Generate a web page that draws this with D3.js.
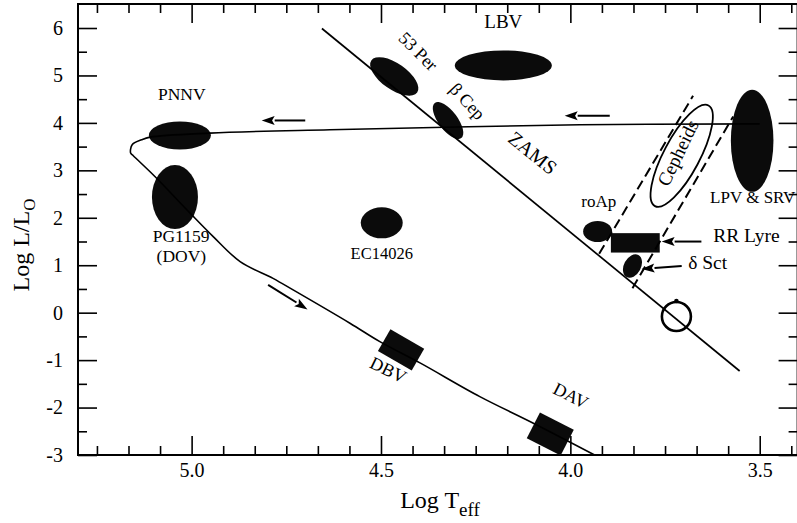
<!DOCTYPE html>
<html><head><meta charset="utf-8">
<script src="https://cdn.jsdelivr.net/npm/d3@7"></script>
<style>
body{margin:0;background:#fff}
svg{display:block}
text{font-family:"Liberation Serif","Times New Roman",Times,serif;fill:#000}
</style>
</head><body>
<svg id="chart" width="797" height="523"></svg>
<script>
// ---------- data (log Teff, log L/Lsun) ----------
const xMajorTicks = [5.0, 4.5, 4.0, 3.5];
const xTickLabels = ["5.0", "4.5", "4.0", "3.5"];
const yMajorTicks = [-3, -2, -1, 0, 1, 2, 3, 4, 5, 6];
const yTickLabels = ["-3", "-2", "-1", "0", "1", "2", "3", "4", "5", "6"];

const zamsLogT = [4.656, 3.553];
const zamsLogL = [5.99, -1.23];

// post-AGB / white dwarf evolutionary track
const trackLogT = [3.50, 3.975, 4.635, 4.952, 5.110, 5.132, 5.157, 5.161, 5.154, 5.097, 5.004, 4.943, 4.872, 4.785, 4.732, 4.582, 4.503, 4.397, 4.239, 4.099, 3.936];
const trackLogL = [3.98, 3.96, 3.855, 3.785, 3.70, 3.644, 3.539, 3.364, 3.307, 2.870, 2.098, 1.604, 1.077, 0.723, 0.480, -0.222, -0.610, -1.059, -1.770, -2.325, -3.0];

// filled pulsator regions (ellipses)
const regionNames = ["PNNV", "PG1159", "EC14026", "53 Per", "β Cep", "LBV", "LPV & SRV", "roAp", "δ Sct"];
const regionLogT = [5.031, 5.044, 4.498, 4.465, 4.323, 4.177, 3.520, 3.928, 3.836];
const regionLogL = [3.735, 2.436, 1.893, 4.979, 4.051, 5.211, 3.623, 1.710, 0.982];

// rotated boxes on the white dwarf cooling track
const boxNames = ["DBV", "DAV"];
const boxLogT = [4.447, 4.053];
const boxLogL = [-0.785, -2.557];

// RR Lyrae box
const rrLogT = [3.893, 3.764];
const rrLogL = [1.267, 1.676];

// Cepheid outline
const cephLogT = 3.706, cephLogL = 3.307;

// instability strip edges (dashed)
const stripBlueLogT = [3.924, 3.676], stripBlueLogL = [1.240, 4.572];
const stripRedLogT = [3.836, 3.570], stripRedLogL = [0.516, 4.136];

// Sun
const sunLogT = 3.720, sunLogL = -0.08;

// arrows
const arrowFromT = [4.700, 3.896, 4.798, 3.654, 3.706];
const arrowFromL = [4.051, 4.150, 0.586, 1.499, 0.986];
const arrowToT = [4.815, 4.015, 4.694, 3.759, 3.812];
const arrowToL = [4.051, 4.150, 0.069, 1.499, 0.923];

// labels
const labelTexts = ["LBV", "53 Per", "β Cep", "ZAMS", "PNNV", "PG1159", "(DOV)", "EC14026", "roAp", "LPV & SRV", "RR Lyre", "δ Sct", "Cepheids", "DBV", "DAV"];
const labelLogT = [4.177, 4.402, 4.272, 4.099, 5.026, 5.028, 5.027, 4.498, 3.925, 3.631, 3.623, 3.689, 3.716, 4.481, 3.999];
const labelLogL = [6.0, 5.507, 4.452, 3.37, 4.488, 1.486, 1.077, 1.134, 2.237, 2.309, 1.487, 0.917, 3.37, -1.207, -1.749];

// ---------- styling / geometry (pixels) ----------
const ellipseStyle = {
  "PNNV": {rx: 31, ry: 14, rot: 0},
  "PG1159": {rx: 23, ry: 32, rot: 0},
  "EC14026": {rx: 21, ry: 15.5, rot: 0},
  "53 Per": {rx: 28, ry: 13, rot: 35},
  "β Cep": {rx: 22, ry: 9.5, rot: 53},
  "LBV": {rx: 48.5, ry: 15, rot: 0},
  "LPV & SRV": {rx: 21.3, ry: 51, rot: 0},
  "roAp": {rx: 14.5, ry: 10.5, rot: 0},
  "δ Sct": {rx: 12.5, ry: 8.5, rot: -62}
};
const boxStyle = {"DBV": {w: 39, h: 25, rot: 30}, "DAV": {w: 38, h: 29, rot: 27}};
const labelStyle = [
  {size: 19, anchor: "middle", rot: 0, base: "auto"},
  {size: 18, anchor: "middle", rot: 45, base: "central"},
  {size: 18, anchor: "middle", rot: 47, base: "central"},
  {size: 20, anchor: "middle", rot: 39, base: "central"},
  {size: 17.5, anchor: "middle", rot: 0, base: "auto"},
  {size: 17.5, anchor: "middle", rot: 0, base: "auto"},
  {size: 17.5, anchor: "middle", rot: 0, base: "auto"},
  {size: 16.5, anchor: "middle", rot: 0, base: "auto"},
  {size: 17, anchor: "middle", rot: 0, base: "auto"},
  {size: 17, anchor: "start", rot: 0, base: "auto"},
  {size: 19.5, anchor: "start", rot: 0, base: "auto"},
  {size: 19.5, anchor: "start", rot: 0, base: "auto"},
  {size: 19, anchor: "middle", rot: -64, base: "central"},
  {size: 18, anchor: "middle", rot: 26, base: "central"},
  {size: 18, anchor: "middle", rot: 27, base: "central"}
];

// ---------- chart ----------
const svg = d3.select("#chart");
const pL = 78, pR = 797.6, pT = 4, pB = 455;
const x = d3.scaleLinear().domain([5.3, 3.4]).range([pL, pR]);
const y = d3.scaleLinear().domain([-3, 6.506]).range([pB, pT]);
const ink = "#000";

const xMinor = d3.range(-3, 23).filter(k => k % 6 !== 0).map(k => 5.0 - k / 12).filter(v => v > 3.4 && v < 5.3);
const yMinor = d3.range(-2.5, 6.5, 1);

function styleAxis(g) {
  g.select(".domain").remove();
  g.selectAll(".tick line").attr("stroke", ink).attr("stroke-width", 1.6);
  g.selectAll(".tick text").style("font-family", '"Liberation Serif","Times New Roman",serif').style("font-size", "20px").attr("fill", ink);
}

// bottom
svg.append("g").attr("transform", `translate(0,${pB})`)
  .call(d3.axisBottom(x).tickValues(xMajorTicks).tickSize(-19).tickPadding(8).tickFormat((d, i) => xTickLabels[i])).call(styleAxis);
svg.append("g").attr("transform", `translate(0,${pB})`)
  .call(d3.axisBottom(x).tickValues(xMinor).tickSize(-9).tickFormat("")).call(styleAxis);
// top
svg.append("g").attr("transform", `translate(0,${pT})`)
  .call(d3.axisTop(x).tickValues(xMajorTicks).tickSize(-19).tickFormat("")).call(styleAxis);
svg.append("g").attr("transform", `translate(0,${pT})`)
  .call(d3.axisTop(x).tickValues(xMinor).tickSize(-9).tickFormat("")).call(styleAxis);
// left
svg.append("g").attr("transform", `translate(${pL},0)`)
  .call(d3.axisLeft(y).tickValues(yMajorTicks).tickSize(-19).tickPadding(15).tickFormat((d, i) => yTickLabels[i])).call(styleAxis);
svg.append("g").attr("transform", `translate(${pL},0)`)
  .call(d3.axisLeft(y).tickValues(yMinor).tickSize(-9).tickFormat("")).call(styleAxis);
// right
svg.append("g").attr("transform", `translate(${pR},0)`)
  .call(d3.axisRight(y).tickValues(yMajorTicks).tickSize(-19).tickFormat("")).call(styleAxis);
svg.append("g").attr("transform", `translate(${pR},0)`)
  .call(d3.axisRight(y).tickValues(yMinor).tickSize(-9).tickFormat("")).call(styleAxis);

// frame
svg.append("rect").attr("x", pL).attr("y", pT).attr("width", pR - pL).attr("height", pB - pT)
  .attr("fill", "none").attr("stroke", ink).attr("stroke-width", 2);

const plot = svg.append("g");

// filled ellipses
regionNames.forEach((n, i) => {
  const s = ellipseStyle[n];
  plot.append("ellipse")
    .attr("transform", `translate(${x(regionLogT[i])},${y(regionLogL[i])}) rotate(${s.rot})`)
    .attr("rx", s.rx).attr("ry", s.ry).attr("fill", "#0b0b0b");
});

// rotated boxes
boxNames.forEach((n, i) => {
  const s = boxStyle[n];
  plot.append("rect")
    .attr("transform", `translate(${x(boxLogT[i])},${y(boxLogL[i])}) rotate(${s.rot})`)
    .attr("x", -s.w / 2).attr("y", -s.h / 2).attr("width", s.w).attr("height", s.h).attr("fill", "#0b0b0b");
});

// RR Lyrae box
plot.append("rect")
  .attr("x", x(rrLogT[0])).attr("y", y(rrLogL[1]))
  .attr("width", x(rrLogT[1]) - x(rrLogT[0])).attr("height", y(rrLogL[0]) - y(rrLogL[1]))
  .attr("fill", "#0b0b0b");

// Cepheid outline
plot.append("ellipse")
  .attr("transform", `translate(${x(cephLogT)},${y(cephLogL)}) rotate(-62)`)
  .attr("rx", 57).attr("ry", 18).attr("fill", "none").attr("stroke", ink).attr("stroke-width", 1.8);

// instability strip
[[stripBlueLogT, stripBlueLogL], [stripRedLogT, stripRedLogL]].forEach(([t, l]) => {
  plot.append("line")
    .attr("x1", x(t[0])).attr("y1", y(l[0])).attr("x2", x(t[1])).attr("y2", y(l[1]))
    .attr("stroke", ink).attr("stroke-width", 2).attr("stroke-dasharray", "10,5");
});

// ZAMS
plot.append("path").datum(zamsLogT.map((t, i) => [t, zamsLogL[i]]))
  .attr("d", d3.line().x(d => x(d[0])).y(d => y(d[1])))
  .attr("fill", "none").attr("stroke", ink).attr("stroke-width", 1.7);

// evolutionary track
plot.append("path").datum(trackLogT.map((t, i) => [t, trackLogL[i]]))
  .attr("d", d3.line().x(d => x(d[0])).y(d => y(d[1])).curve(d3.curveCatmullRom.alpha(0.5)))
  .attr("fill", "none").attr("stroke", ink).attr("stroke-width", 1.6);

// Sun
plot.append("circle").attr("cx", x(sunLogT)).attr("cy", y(sunLogL)).attr("r", 14.5)
  .attr("fill", "none").attr("stroke", ink).attr("stroke-width", 2.6);
plot.append("circle").attr("cx", x(sunLogT)).attr("cy", y(sunLogL) - 15.5).attr("r", 2.3).attr("fill", ink);

// arrows
arrowFromT.forEach((t, i) => {
  const x1 = x(t), y1 = y(arrowFromL[i]), x2 = x(arrowToT[i]), y2 = y(arrowToL[i]);
  const ang = Math.atan2(y2 - y1, x2 - x1);
  const hl = 13, hw = 4.5;
  const bx = x2 - hl * Math.cos(ang), by = y2 - hl * Math.sin(ang);
  plot.append("line").attr("x1", x1).attr("y1", y1).attr("x2", bx).attr("y2", by)
    .attr("stroke", ink).attr("stroke-width", 2);
  const px = -Math.sin(ang) * hw, py = Math.cos(ang) * hw;
  plot.append("path")
    .attr("d", `M${x2},${y2}L${bx + px},${by + py}L${bx + hl * 0.2 * Math.cos(ang)},${by + hl * 0.2 * Math.sin(ang)}L${bx - px},${by - py}Z`)
    .attr("fill", ink);
});

// labels
labelTexts.forEach((txt, i) => {
  const s = labelStyle[i];
  plot.append("text")
    .attr("transform", `translate(${x(labelLogT[i])},${y(labelLogL[i])}) rotate(${s.rot})`)
    .attr("text-anchor", s.anchor)
    .attr("dominant-baseline", s.base)
    .style("font-size", s.size + "px")
    .text(txt);
});

// axis titles
const xt = svg.append("text").attr("x", 440).attr("y", 508).attr("text-anchor", "middle").style("font-size", "24px");
xt.append("tspan").text("Log T");
xt.append("tspan").attr("dy", 8).style("font-size", "19px").text("eff");

const yt = svg.append("text").attr("transform", "translate(29,245) rotate(-90)").attr("text-anchor", "middle").style("font-size", "24px");
yt.append("tspan").text("Log L/L");
yt.append("tspan").attr("dy", 6).style("font-size", "17px").text("O");
</script>
</body></html>
